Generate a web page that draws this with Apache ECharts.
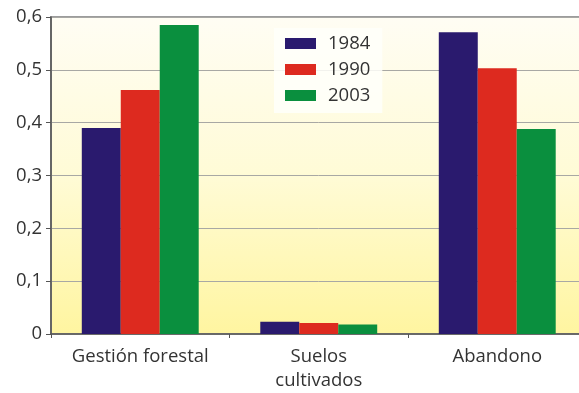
<!DOCTYPE html>
<html>
<head>
<meta charset="utf-8">
<script src="https://cdn.jsdelivr.net/npm/echarts@6/dist/echarts.min.js"></script>
<style>
html,body{margin:0;padding:0;background:#ffffff;overflow:hidden;}
#chart{width:600px;height:393px;}
</style>
</head>
<body>
<div id="chart"></div>
<script>
const categories = ['Gestión forestal', 'Suelos\ncultivados', 'Abandono'];
const seriesNames = ['1984', '1990', '2003'];
const values1984 = [0.39, 0.023, 0.571];
const values1990 = [0.462, 0.021, 0.503];
const values2003 = [0.585, 0.018, 0.388];
const yTicks = [0, 0.1, 0.2, 0.3, 0.4, 0.5, 0.6];

const colors = ['#2a1a6e', '#dd2a1f', '#0a8f3e'];
const font = '"Open Sans", Lato, sans-serif';

const chart = echarts.init(document.getElementById('chart'), null, {renderer: 'canvas'});
const seriesData = [values1984, values1990, values2003];

chart.setOption({
  animation: false,
  backgroundColor: '#ffffff',
  textStyle: {fontFamily: font},
  grid: {
    left: 51, top: 17, width: 535.5, height: 318,
    show: true,
    borderWidth: 2,
    borderColor: '#9c9c9c',
    backgroundColor: new echarts.graphic.LinearGradient(0, 0, 0, 1, [
      {offset: 0, color: '#fffdf4'},
      {offset: 0.5, color: '#fffbd6'},
      {offset: 1, color: '#fff5a0'}
    ])
  },
  legend: {
    orient: 'vertical',
    left: 274, top: 28,
    itemWidth: 31, itemHeight: 11, itemGap: 7,
    padding: [6, 12, 8, 11],
    backgroundColor: 'rgba(255,255,250,0.85)',
    icon: 'rect',
    data: seriesNames,
    textStyle: {fontSize: 18.5, color: '#333', fontFamily: font, padding: [0, 0, 0, 7]}
  },
  xAxis: {
    type: 'category',
    data: categories,
    axisLine: {lineStyle: {color: '#555', width: 1.5}},
    axisTick: {show: true, length: 4, lineStyle: {color: '#555'}},
    axisLabel: {fontSize: 18.5, color: '#333', margin: 11, lineHeight: 24, fontFamily: font}
  },
  yAxis: {
    type: 'value',
    min: 0, max: 0.6, interval: 0.1,
    axisLine: {show: true, lineStyle: {color: '#555', width: 1.5}},
    axisTick: {show: true, length: 5, lineStyle: {color: '#555'}},
    splitLine: {show: true, lineStyle: {color: '#a8a8a4', width: 1}},
    axisLabel: {
      fontSize: 18.5, color: '#333', margin: 9, fontFamily: font,
      formatter: v => {
        const t = yTicks.find(x => Math.abs(x - v) < 1e-9);
        return (t === 0 ? '0' : t.toFixed(1).replace('.', ','));
      }
    }
  },
  series: seriesNames.map((n, i) => ({
    name: n,
    type: 'bar',
    data: seriesData[i],
    barGap: 0,
    barCategoryGap: '34.5%',
    itemStyle: {color: colors[i]}
  }))
});
</script>
</body>
</html>
